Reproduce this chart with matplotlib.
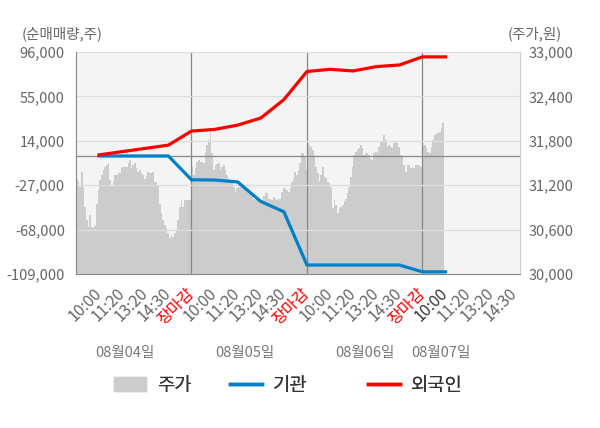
import matplotlib
matplotlib.use('Agg')
import matplotlib.pyplot as plt
import matplotlib.transforms as mtransforms
from matplotlib.patches import Patch
from matplotlib.lines import Line2D
from matplotlib.ticker import FuncFormatter
import numpy as np

plt.rcParams['font.family'] = ['Noto Sans CJK KR', 'DejaVu Sans']

"""Data"""

# tick labels on the x axis (4 sessions, last one cut)
tick_labels = ['10:00', '11:20', '13:20', '14:30', '장마감'] * 3 + ['10:00', '11:20', '13:20', '14:30']
date_labels = ['08월04일', '08월05일', '08월06일', '08월07일']
date_pos = [0.42, 1.46, 2.50, 3.16]

# cumulative net buying, one point per tick (10:00 day1 ... 10:00 day4)
foreign = [1000, 4000, 7000, 10000, 23000, 24500, 28500, 35000,
           52000, 78000, 80000, 78500, 82500, 84000, 91500, 91500]
institution = [0, 0, 0, 0, -22000, -22200, -24000, -42000,
               -51500, -100700, -100700, -100700, -100700, -100700, -107000, -107000]

# intraday price per session
price_d1 = [31290, 31250, 31180, 31380, 31180, 30910, 30730, 30640, 30800, 30640,
            30620, 30650, 30950, 31130, 31270, 31340, 31400, 31450, 31470, 31500,
            31270, 31200, 31250, 31340, 31340, 31360, 31360, 31450, 31450, 31450,
            31450, 31500, 31540, 31430, 31470, 31500, 31430, 31380, 31400, 31360,
            31340, 31290, 31330, 31380, 31360, 31360, 31380, 31250, 31250, 31200,
            30950, 30820, 30730, 30660, 30620, 30560, 30480, 30530, 30500, 30550,
            30600, 30730, 30900, 31000, 30910, 31000, 31000, 31000, 31000]
price_d2 = [31450, 31340, 31430, 31520, 31540, 31520, 31520, 31500, 31650, 31740,
            31810, 31920, 31630, 31400, 31470, 31480, 31500, 31400, 31450, 31470,
            31400, 31340, 31290, 31270, 31250, 31180, 31110, 31160, 31170, 31180,
            31180, 31160, 31140, 31110, 31090, 31070, 31050, 31020, 31000, 31010,
            31020, 31000, 31000, 31050, 31090, 31090, 31020, 31010, 31000, 31040,
            31020, 31000, 31020, 31020, 31110, 31160, 31150, 31130, 31110, 31160,
            31250, 31290, 31380, 31340, 31400, 31500, 31630, 31630, 31600, 31400]
price_d3 = [31765, 31740, 31720, 31675, 31585, 31450, 31360, 31250, 31340, 31450,
            31315, 31300, 31250, 31225, 31180, 30890, 31000, 30930, 30820, 30890,
            30910, 30930, 30980, 31020, 31090, 31180, 31315, 31450, 31610, 31650,
            31670, 31700, 31740, 31700, 31610, 31630, 31630, 31610, 31560, 31540,
            31630, 31650, 31630, 31720, 31790, 31790, 31880, 31810, 31720, 31740,
            31720, 31700, 31765, 31790, 31765, 31720, 31610, 31590, 31470, 31380,
            31470, 31470, 31430, 31450, 31430, 31470, 31470, 31470, 31450, 31500]
price_d4 = [31740, 31740, 31700, 31650, 31630, 31720, 31810, 31880, 31900, 31900,
            31920, 31970, 32040, 32040]

"""Build x positions"""

tick_x = np.arange(1, len(tick_labels) + 1) * 0.2
line_x = tick_x[:len(foreign)]

px, py = [], []
for d, vals in enumerate([price_d1, price_d2, price_d3, price_d4]):
    px.extend(d + np.arange(len(vals)) / 69.5)
    py.extend(vals)
px = np.array(px)
py = np.array(py)

"""Plot"""

fig = plt.figure(figsize=(6, 4.28), dpi=100)
ax = fig.add_axes([76 / 600, 1 - 274 / 428, 444 / 600, 222 / 428])
ax2 = ax.twinx()
ax.set_zorder(ax2.get_zorder() + 1)
ax.patch.set_visible(False)
ax2.patch.set_visible(True)
ax2.patch.set_facecolor('#f4f4f4')

ax2.fill_between(px, 30000, py, step='post', color='#cccccc', lw=0)
ax2.set_ylim(30000, 33000)
ax2.set_yticks(np.arange(30000, 33001, 600))
ax2.yaxis.set_major_formatter(FuncFormatter(lambda v, p: f'{int(v):,}'))
ax2.tick_params(axis='y', length=0, pad=6, labelsize=10.5, labelcolor='#666666')
for s in ax2.spines.values():
    s.set_visible(False)

ax.set_xlim(0, 3.845)
ax.set_ylim(-109000, 96000)
ax.set_yticks([96000, 55000, 14000, -27000, -68000, -109000])
ax.yaxis.set_major_formatter(FuncFormatter(lambda v, p: f'{int(v):,}'))
ax.grid(axis='y', color='#dddddd', lw=0.9)
ax.tick_params(axis='y', length=0, pad=8, labelsize=10.5, labelcolor='#666666')

for d in [1, 2, 3]:
    ax.axvline(d, color='#888888', lw=0.9, zorder=1)
ax.axhline(0, color='#888888', lw=0.9, zorder=1)

ax.plot(line_x, institution, color='#0080c8', lw=2.3, zorder=3)
ax.plot(line_x, foreign, color='#ff0000', lw=2.3, zorder=3)

ax.set_xticks(tick_x)
ax.set_xticklabels(tick_labels, rotation=45, ha='right', va='center',
                   rotation_mode='anchor', fontsize=11.5)
ax.tick_params(axis='x', length=0, pad=12)
for i, lab in enumerate(ax.get_xticklabels()):
    if tick_labels[i] == '장마감':
        lab.set_color('#ff0000')
    elif i == 15:
        lab.set_color('#333333')
    else:
        lab.set_color('#666666')

ax.spines['top'].set_visible(False)
ax.spines['left'].set_color('#888888')
ax.spines['bottom'].set_color('#888888')
ax.spines['right'].set_color('#cccccc')

trans = mtransforms.blended_transform_factory(ax.transData, fig.transFigure)
for x, lab in zip(date_pos, date_labels):
    ax.text(x, 1 - 353 / 428, lab, transform=trans, ha='center', va='center',
            fontsize=10.5, color='#777777')

fig.text(22 / 600, 1 - 34 / 428, '(순매매량,주)', ha='left', va='center', fontsize=10.5, color='#666666')
fig.text(535 / 600, 1 - 34 / 428, '(주가,원)', ha='center', va='center', fontsize=10.5, color='#666666')

# legend, one entry at a time so the gaps match
handles = [Patch(color='#cccccc'),
           Line2D([0], [0], color='#0080c8', lw=2.5),
           Line2D([0], [0], color='#ff0000', lw=2.5)]
legend_names = ['주가', '기관', '외국인']
legend_left = [114, 230, 368]
for h, name, left in zip(handles, legend_names, legend_left):
    leg = fig.legend([h], [name], loc='center left', bbox_to_anchor=(left / 600, 1 - 385 / 428),
                     frameon=False, fontsize=13.5, handlelength=1.7, handleheight=0.8,
                     handletextpad=0.6, borderpad=0, borderaxespad=0, labelcolor='#333333')
    fig.add_artist(leg)

fig.savefig('out.png', dpi=100)
